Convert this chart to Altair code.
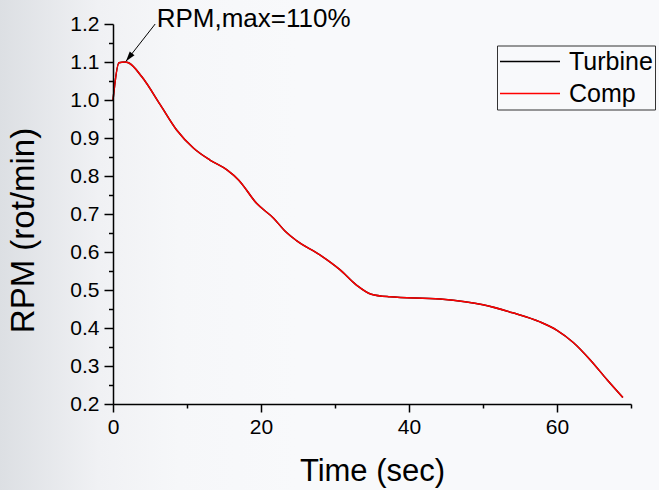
import altair as alt
import pandas as pd

F = "Liberation Sans"

# ---- data ----
time_sec = [0, 0.8, 1.6, 2.1, 3.9, 6.4, 8.6, 10.9, 13.1, 15.4, 17.0, 19.4, 21.7, 23.2,
            24.8, 28.0, 30.7, 32.9, 34.9, 37.4, 44.2, 50.0, 54.0, 57.7, 60.0, 62.2,
            64.5, 66.8, 68.9]
turbine_rpm = [1.0, 1.098, 1.1, 1.098, 1.061, 0.987, 0.921, 0.873, 0.842, 0.816, 0.789,
               0.728, 0.689, 0.656, 0.630, 0.592, 0.553, 0.513, 0.489, 0.482, 0.476,
               0.461, 0.44, 0.416, 0.394, 0.362, 0.316, 0.263, 0.217]
comp_rpm = [1.0, 1.098, 1.1, 1.098, 1.061, 0.987, 0.921, 0.873, 0.842, 0.816, 0.789,
            0.728, 0.689, 0.656, 0.630, 0.592, 0.553, 0.513, 0.489, 0.482, 0.476,
            0.461, 0.44, 0.416, 0.394, 0.362, 0.316, 0.263, 0.217]
series_names = ["Turbine", "Comp"]
series_colors = ["black", "red"]

x_major = [0, 20, 40, 60]
x_minor = [10, 30, 50, 70]
y_major = [0.2, 0.3, 0.4, 0.5, 0.6, 0.7, 0.8, 0.9, 1.0, 1.1, 1.2]
y_minor = [0.25, 0.35, 0.45, 0.55, 0.65, 0.75, 0.85, 0.95, 1.05, 1.15]

annot_text = ["RPM,max=110%"]
annot_text_t = [5.9]
annot_text_v = [1.193]
arrow_tail_t = [5.7]
arrow_tail_v = [1.2]
arrow_tip_t = [1.76]
arrow_tip_v = [1.102]

# ---- tables ----
df = pd.DataFrame({
    "t": time_sec * 2,
    "rpm": turbine_rpm + comp_rpm,
    "series": ["Turbine"] * len(time_sec) + ["Comp"] * len(time_sec),
})
ann = pd.DataFrame({
    "label": annot_text, "lt": annot_text_t, "lv": annot_text_v,
    "tt": arrow_tail_t, "tv": arrow_tail_v, "pt": arrow_tip_t, "pv": arrow_tip_v,
})
bg = pd.DataFrame({"k": [0]})

xscale = alt.Scale(domain=[0, 70], nice=False, zero=False)
yscale = alt.Scale(domain=[0.2, 1.2], nice=False, zero=False)
cscale = alt.Scale(domain=series_names, range=series_colors)

common_axis = dict(domainColor="black", tickColor="black", labelColor="black",
                   domainWidth=1.5, tickWidth=1.5, grid=False, labelFont=F,
                   labelFlush=False, labelOverlap=False, titleFont=F,
                   titleFontWeight="normal", titleColor="black", zindex=2)

x_major_axis = alt.Axis(values=x_major, format="d", tickSize=8, labelFontSize=21,
                        labelPadding=4, title="Time (sec)", titleFontSize=31,
                        titleBaseline="alphabetic", titleX=259, titleY=76,
                        titleAlign="center", orient="bottom", **common_axis)
y_major_axis = alt.Axis(values=y_major, format=".1f", tickSize=9, labelFontSize=21,
                        labelPadding=5, title="RPM (rot/min)", titleFontSize=33,
                        titleAngle=270, titleBaseline="alphabetic", titleX=-80,
                        titleY=206, titleAlign="center", orient="left", **common_axis)
x_minor_axis = alt.Axis(values=x_minor, tickSize=4, labels=False, domain=False,
                        title="", orient="bottom", tickColor="black", tickWidth=1.5,
                        grid=False, zindex=2)
y_minor_axis = alt.Axis(values=y_minor, tickSize=4.5, labels=False, domain=False,
                        title="", orient="left", tickColor="black", tickWidth=1.5,
                        grid=False, zindex=2)

background = alt.Chart(bg).mark_rect(
    color=alt.LinearGradient(
        gradient="linear", x1=0, x2=1, y1=0, y2=0,
        stops=[alt.GradientStop(offset=0, color="#dcdfe3"),
               alt.GradientStop(offset=0.15, color="#f0f1f4"),
               alt.GradientStop(offset=0.27, color="#f6f7f9"),
               alt.GradientStop(offset=0.45, color="#f8f9fb"),
               alt.GradientStop(offset=1, color="#f8f9fb")])
).encode(x=alt.value(-113), x2=alt.value(546), y=alt.value(-25), y2=alt.value(466))

legend = alt.Legend(title=None, orient="none", legendX=384, legendY=21.5,
                    padding=2, strokeColor="#333333", symbolType="stroke",
                    symbolSize=3600, symbolStrokeWidth=1.5, clipHeight=28,
                    rowPadding=4, labelFontSize=25, labelFont=F, labelColor="black",
                    labelOffset=8, zindex=2)

turbine = alt.Chart(df).transform_filter(alt.datum.series == "Turbine").mark_line(
    interpolate="monotone", strokeWidth=1.5
).encode(
    x=alt.X("t:Q", scale=xscale, axis=x_major_axis),
    y=alt.Y("rpm:Q", scale=yscale, axis=y_major_axis),
    color=alt.Color("series:N", scale=cscale, legend=legend),
)
comp = alt.Chart(df).transform_filter(alt.datum.series == "Comp").mark_line(
    interpolate="monotone", strokeWidth=1.5
).encode(
    x=alt.X("t:Q", scale=xscale, axis=None),
    y=alt.Y("rpm:Q", scale=yscale, axis=None),
    color=alt.Color("series:N", scale=cscale, legend=legend),
)
minor = alt.Chart(df).mark_point(opacity=0).encode(
    x=alt.X("t:Q", scale=xscale, axis=x_minor_axis),
    y=alt.Y("rpm:Q", scale=yscale, axis=y_minor_axis),
)

arrow_line = alt.Chart(ann).mark_rule(color="black", strokeWidth=1).encode(
    x=alt.X("tt:Q", scale=xscale, axis=None),
    y=alt.Y("tv:Q", scale=yscale, axis=None),
    x2="pt:Q", y2="pv:Q",
)
arrow_head = alt.Chart(ann).mark_point(
    shape="M0,0L0.6,2L-0.6,2Z", filled=True, color="black", opacity=1,
    size=100, angle=217.5, strokeWidth=0
).encode(
    x=alt.X("pt:Q", scale=xscale, axis=None),
    y=alt.Y("pv:Q", scale=yscale, axis=None),
)
annot = alt.Chart(ann).mark_text(
    align="left", baseline="alphabetic", fontSize=26, font=F, color="black"
).encode(
    x=alt.X("lt:Q", scale=xscale, axis=None),
    y=alt.Y("lv:Q", scale=yscale, axis=None),
    text="label:N",
)

chart = alt.layer(
    background, turbine, minor, comp, arrow_line, arrow_head, annot
).resolve_axis(
    x="independent", y="independent"
).properties(
    width=518, height=380,
    autosize=alt.AutoSizeParams(type="none"),
    padding={"left": 113, "top": 24, "right": 28, "bottom": 86},
    background="#f8f9fb",
).configure_view(stroke=None)

chart.save("out.html", embed_options={"renderer": "svg", "actions": False})
